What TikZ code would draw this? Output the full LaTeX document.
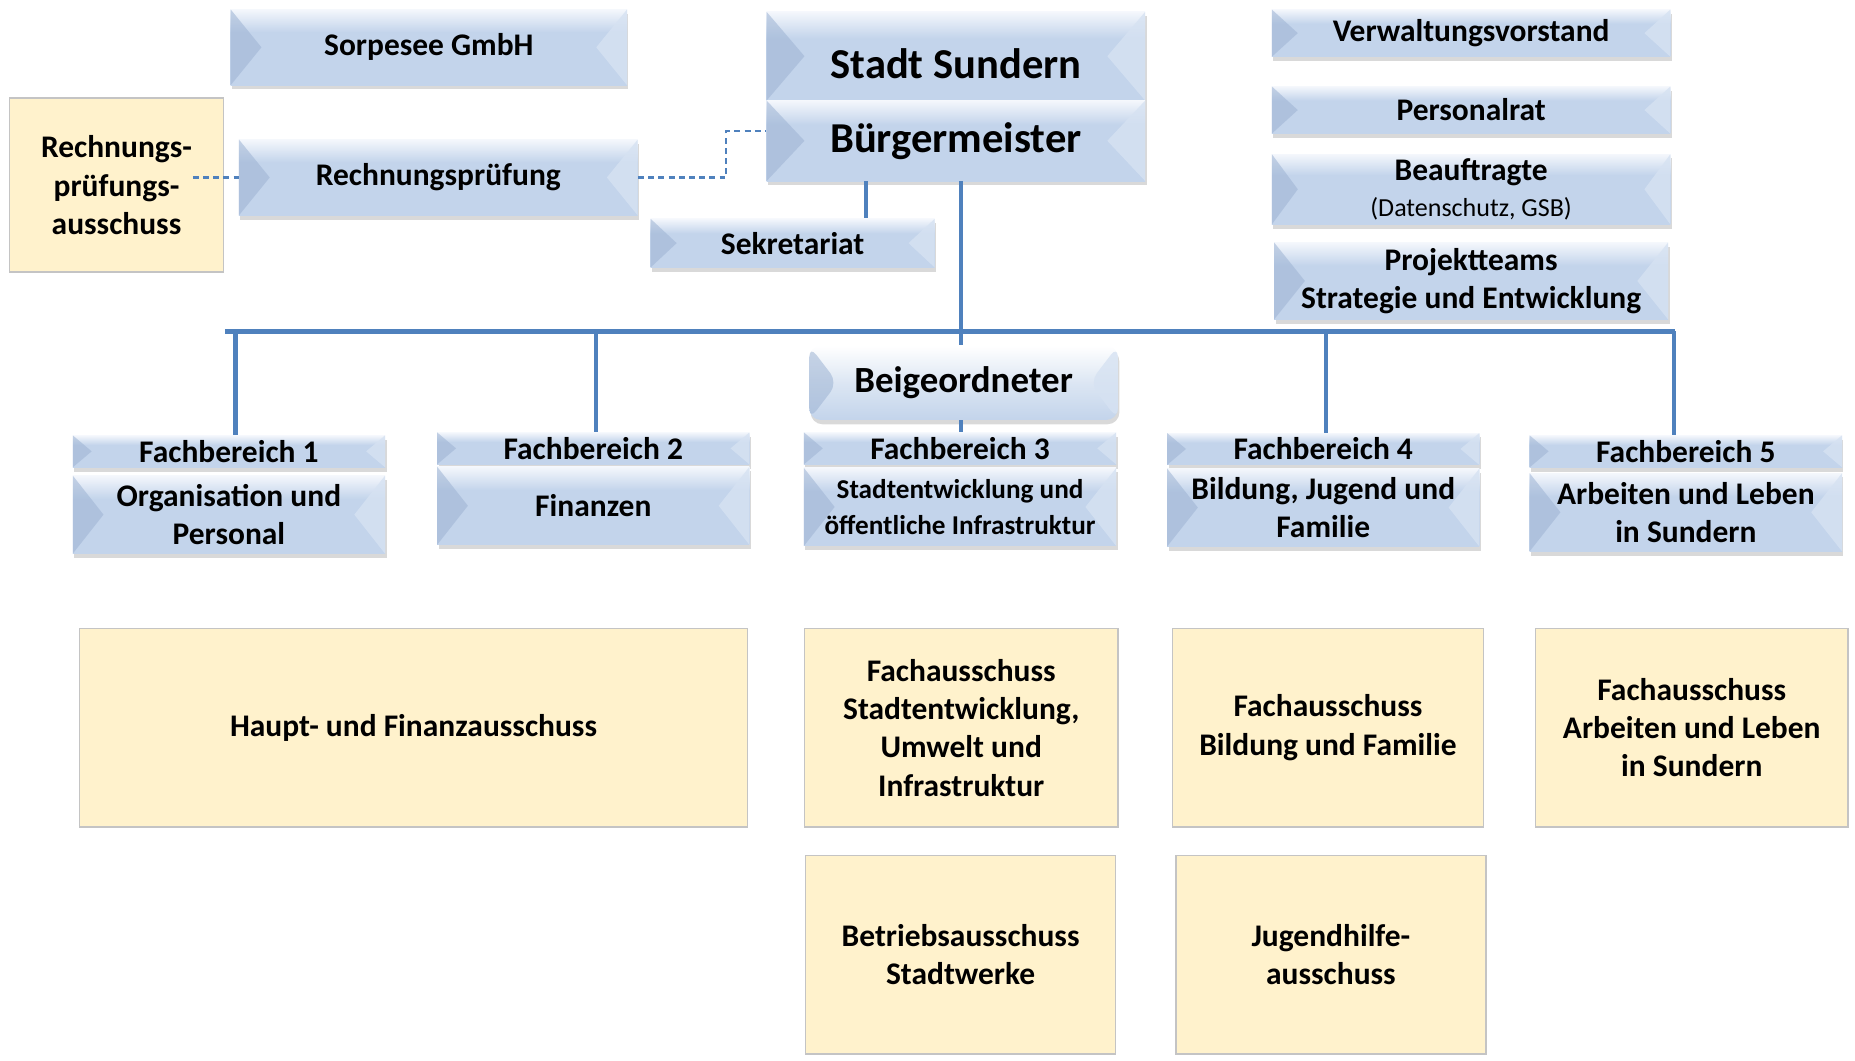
\documentclass[tikz,border=0pt]{standalone}
\usepackage{fontspec}
\setmainfont{Carlito}
\usetikzlibrary{shadows}
\usepackage{xcolor}

\definecolor{orgline}{HTML}{4F81BD}
\definecolor{boxbot}{HTML}{C3D4EB}
\definecolor{boxtop}{HTML}{F4F7FC}
\definecolor{boxsoft}{HTML}{DCE6F3}
\definecolor{bevdark}{HTML}{9DB3D3}
\definecolor{bevlight}{HTML}{D6E2F2}
\definecolor{cmtfill}{HTML}{FFF2CC}
\definecolor{cmtdraw}{HTML}{C4C4C4}

\pgfdeclareverticalshading{bevelshade}{100bp}{color(0bp)=(boxbot); color(25bp)=(boxbot); color(60bp)=(boxbot); color(75bp)=(boxtop); color(100bp)=(boxtop)}
\pgfdeclareverticalshading{roundshade}{100bp}{color(0bp)=(boxbot); color(25bp)=(boxbot); color(50bp)=(boxsoft); color(75bp)=(white); color(100bp)=(white)}

\tikzset{
    bevel depth/.store in=\bvd, bevel depth=11pt,
    bevelfaces/.style={path picture={
        \fill[bevdark, opacity=0.55] (path picture bounding box.north west)
            -- ([xshift=\bvd]path picture bounding box.west) -- (path picture bounding box.south west) -- cycle;
        \fill[bevlight, opacity=0.8] (path picture bounding box.north east)
            -- ([xshift=-\bvd]path picture bounding box.east) -- (path picture bounding box.south east) -- cycle;
    }},
    orgbox/.style={shading=bevelshade, shade, bevelfaces,
        drop shadow={opacity=0.3, shadow xshift=0.6pt, shadow yshift=-1.8pt},
        inner sep=2pt, align=center, font=\bfseries\fontsize{13.3}{16}\selectfont},
    fbhead/.style={orgbox, bevel depth=8pt, minimum width=132pt, minimum height=13.5pt},
    fbbody/.style={orgbox, bevel depth=13pt, minimum width=132pt, minimum height=33pt},
    roundbox/.style={orgbox, shading=roundshade, rounded corners=5pt},
    cmtbox/.style={fill=cmtfill, draw=cmtdraw, line width=0.6pt, inner sep=2pt,
        align=center, font=\bfseries\fontsize{13.3}{16.2}\selectfont},
    bar/.style={orgline, line width=2pt},
    drop/.style={orgline, line width=1.8pt},
    seklink/.style={orgline, line width=1.5pt},
    dashlink/.style={orgline, line width=0.9pt, dash pattern=on 2.5pt off 1.8pt},
}

\begin{document}
\begin{tikzpicture}[x=0.5pt, y=-0.5pt]
    \useasboundingbox (0,0) rectangle (1568,896);

    % top row
    \node[orgbox, bevel depth=13pt, minimum width=167.5pt, minimum height=32pt] (sorp) at (362.5,40) {Sorpesee GmbH};
    \node[orgbox, bevel depth=16pt, minimum width=160pt, minimum height=37.5pt,
        font=\bfseries\fontsize{18}{21}\selectfont, text height=19pt, text depth=0pt] (stadt) at (808,47.5) {Stadt Sundern};
    \node[orgbox, bevel depth=16pt, minimum width=160pt, minimum height=34pt,
        font=\bfseries\fontsize{18}{21}\selectfont] (bm) at (808,119) {Bürgermeister};
    \node[orgbox, minimum width=168.5pt, minimum height=20pt] (vv) at (1243.5,28) {Verwaltungsvorstand};
    \node[orgbox, minimum width=168.5pt, minimum height=20pt] (pr) at (1243.5,93) {Personalrat};
    \node[orgbox, minimum width=168.5pt, minimum height=27pt] (bf) at (1243.5,160)
        {Beauftragte\\[-1pt]{\mdseries\fontsize{11}{13}\selectfont(Datenschutz, GSB)}};
    \node[orgbox, bevel depth=13pt, minimum width=166.5pt, minimum height=32.5pt] (proj) at (1243.5,237.5) {Projektteams\\Strategie und Entwicklung};

    \node[cmtbox, minimum width=90.5pt, minimum height=73.5pt] (rpa) at (98.5,156.5) {Rechnungs-\\prüfungs-\\ausschuss};
    \node[orgbox, bevel depth=13pt, minimum width=168.5pt, minimum height=32pt] (rp) at (370.5,150) {Rechnungsprüfung};
    \node[orgbox, minimum width=120pt, minimum height=20.5pt] (sek) at (670,205.5) {Sekretariat};
    \node[roundbox, bevel depth=12pt, minimum width=130.5pt, minimum height=31.5pt,
        font=\bfseries\fontsize{15.6}{18}\selectfont] (beig) at (814.5,323.5) {Beigeordneter};

    % Fachbereiche
    \node[fbhead] (fb1h) at (193.5,381.5) {Fachbereich 1};
    \node[fbbody] (fb1b) at (193.5,435) {Organisation und\\Personal};
    \node[fbhead] (fb2h) at (501.5,379) {Fachbereich 2};
    \node[fbbody] (fb2b) at (501.5,427.5) {Finanzen};
    \node[fbhead] (fb3h) at (811.5,379) {Fachbereich 3};
    \node[fbbody, font=\bfseries\fontsize{11.5}{15}\selectfont] (fb3b) at (811.5,428.5) {Stadtentwicklung und\\öffentliche Infrastruktur};
    \node[fbhead] (fb4h) at (1118.5,379.5) {Fachbereich 4};
    \node[fbbody] (fb4b) at (1118.5,429) {Bildung, Jugend und\\Familie};
    \node[fbhead] (fb5h) at (1425,381.5) {Fachbereich 5};
    \node[fbbody] (fb5b) at (1425,433) {Arbeiten und Leben\\in Sundern};

    % Ausschuesse
    \node[cmtbox, minimum width=282.5pt, minimum height=84pt] (hfa) at (349.5,615) {Haupt- und Finanzausschuss};
    \node[cmtbox, minimum width=132.5pt, minimum height=84pt] (fsu) at (812.5,615) {Fachausschuss\\Stadtentwicklung,\\Umwelt und\\Infrastruktur};
    \node[cmtbox, minimum width=131.5pt, minimum height=84pt] (fbf) at (1122.5,615) {Fachausschuss\\Bildung und Familie};
    \node[cmtbox, minimum width=132pt, minimum height=84pt] (fal) at (1430,615) {Fachausschuss\\Arbeiten und Leben\\in Sundern};
    \node[cmtbox, minimum width=131pt, minimum height=84pt] (bsw) at (812,807) {Betriebsausschuss\\Stadtwerke};
    \node[cmtbox, minimum width=131pt, minimum height=84pt] (jha) at (1125,807) {Jugendhilfe-\\ausschuss};

    % Linien
    \coordinate (barL) at (190,280);
    \coordinate (barR) at (1416,280);
    \coordinate (hub) at (812,280);
    \coordinate (sk) at (732,0);
    \coordinate (rpk) at (614,111);
    \coordinate (rpain) at (163,0);
    \coordinate (d1) at (199,280);
    \coordinate (d2) at (504,280);
    \coordinate (d4) at (1121,280);
    \coordinate (d5) at (1415,280);
    \draw[bar] (barL) -- (barR);
    \foreach \i in {1,2,4,5} {
        \draw[drop] (d\i) -- (d\i |- fb\i h.north);
    }
    \draw[drop] (hub |- bm.south) -- (hub |- beig.north);
    \draw[drop] (hub |- beig.south) -- (hub |- fb3h.north);
    \draw[seklink] (sk |- bm.south) -- (sk |- sek.north);
    \draw[dashlink] (rp.east) -| (rpk) -- (rpk -| bm.west);
    \draw[dashlink] (rpain |- rp.west) -- (rp.west);
\end{tikzpicture}
\end{document}
